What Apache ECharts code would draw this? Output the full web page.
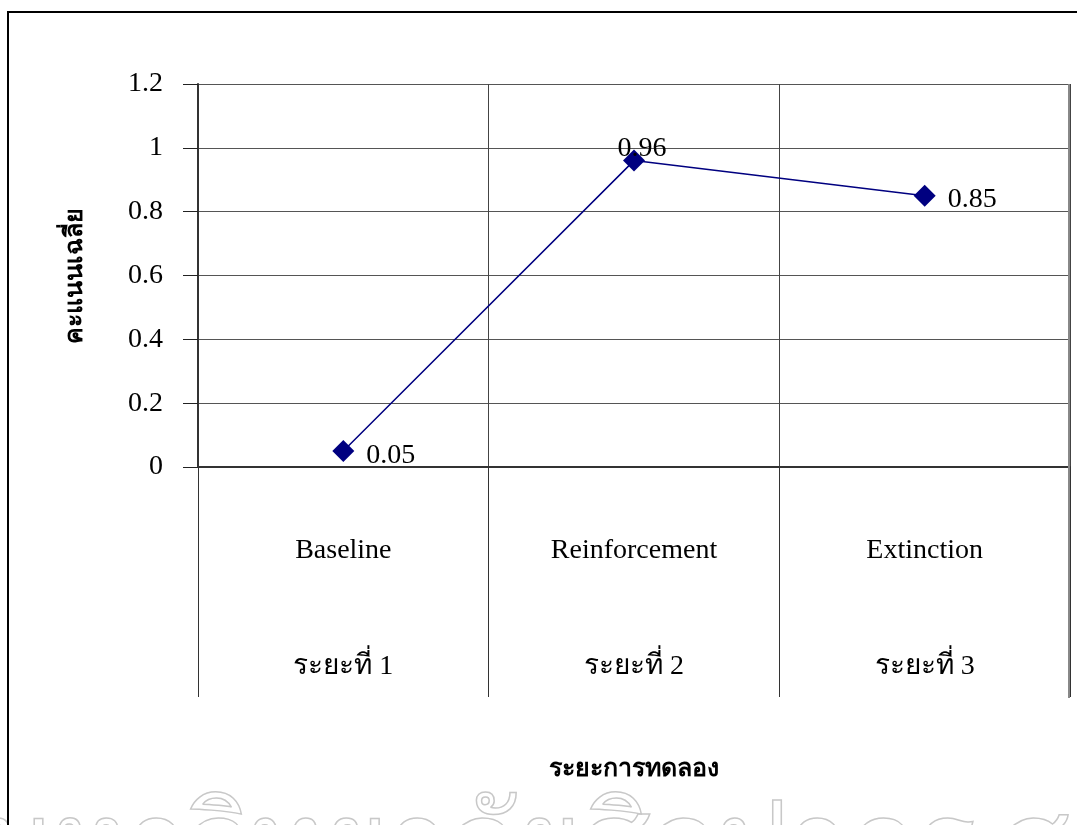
<!DOCTYPE html>
<html>
<head>
<meta charset="utf-8">
<script src="https://cdn.jsdelivr.net/npm/echarts@6/dist/echarts.min.js"></script>
<style>
  html, body { margin: 0; padding: 0; background: #fff; }
  #chart { width: 1077px; height: 825px; }
</style>
</head>
<body>
<div id="chart"></div>
<script>
const categories = ['Baseline', 'Reinforcement', 'Extinction'];
const phases = ['ระยะที่ 1', 'ระยะที่ 2', 'ระยะที่ 3'];
const values = [0.05, 0.96, 0.85];
const yTicks = { min: 0, max: 1.2, interval: 0.2 };
const yTitle = 'คะแนนเฉลี่ย';
const xTitle = 'ระยะการทดลอง';
const watermark = 'มหาวิทยาลัยศิลปากร สงวนลิขสิทธิ์';

const serif = '"Liberation Serif", "Times New Roman", serif';
const chart = echarts.init(document.getElementById('chart'));

const labelCfg = [
  { position: 'right', distance: 12, offset: [0, 5] },
  { position: 'top', distance: 0, offset: [8, 13] },
  { position: 'right', distance: 12, offset: [0, 4] }
];

chart.setOption({
  backgroundColor: '#fff',
  animation: false,
  grid: { left: 198, top: 84, right: 7, bottom: 358, containLabel: false },
  xAxis: {
    type: 'category',
    data: categories,
    boundaryGap: true,
    name: xTitle,
    nameLocation: 'middle',
    nameGap: 290,
    nameTextStyle: { fontFamily: serif, fontWeight: 'bold', fontSize: 25, color: '#000' },
    axisLine: { show: true, lineStyle: { color: '#333', width: 2 } },
    axisTick: { show: true, length: 230, lineStyle: { color: '#333', width: 1 } },
    splitLine: { show: true, lineStyle: { color: '#444', width: 1 } },
    axisLabel: {
      margin: 26,
      interval: 0,
      formatter: (v, i) => '{a|' + v + '}\n{b|' + phases[i] + '}',
      rich: {
        a: { fontFamily: serif, fontSize: 28, color: '#000', lineHeight: 116 },
        b: { fontFamily: serif, fontSize: 28, color: '#000', lineHeight: 116 }
      }
    }
  },
  yAxis: {
    type: 'value',
    min: yTicks.min,
    max: yTicks.max,
    interval: yTicks.interval,
    name: yTitle,
    nameLocation: 'middle',
    nameGap: 110,
    nameRotate: 90,
    nameTextStyle: { fontFamily: serif, fontWeight: 'bold', fontSize: 25, color: '#000' },
    axisLine: { show: true, lineStyle: { color: '#333', width: 2 } },
    axisTick: { show: true, length: 15, inside: false, lineStyle: { color: '#222', width: 1 } },
    splitLine: { show: true, lineStyle: { color: '#555', width: 1 } },
    axisLabel: {
      margin: 35,
      fontFamily: serif,
      fontSize: 28,
      color: '#000',
      formatter: v => String(Math.round(v * 10) / 10)
    }
  },
  series: [{
    type: 'line',
    data: values.map((v, i) => ({
      value: v,
      label: labelCfg[i]
    })),
    symbol: 'diamond',
    symbolSize: 22,
    lineStyle: { color: '#000080', width: 1.5 },
    itemStyle: { color: '#000080' },
    label: {
      show: true,
      fontFamily: serif,
      fontSize: 28,
      color: '#000',
      formatter: p => String(p.value)
    },
    z: 5
  }],
  graphic: [
    {
      type: 'rect',
      shape: { x: 8, y: 12, width: 1200, height: 1000 },
      style: { fill: 'none', stroke: '#000', lineWidth: 2 },
      silent: true, z: 100
    },
    {
      type: 'rect',
      shape: { x: 1069, y: 84, width: 0, height: 614 },
      style: { fill: 'none', stroke: '#888', lineWidth: 2 },
      silent: true, z: 50
    },
    {
      type: 'text',
      left: -20,
      top: 795,
      style: {
        text: watermark,
        font: '110px ' + serif,
        fill: 'rgba(255,255,255,0)',
        stroke: '#c8c8c8',
        lineWidth: 1.5
      },
      silent: true, z: 0
    }
  ]
});
</script>
</body>
</html>
